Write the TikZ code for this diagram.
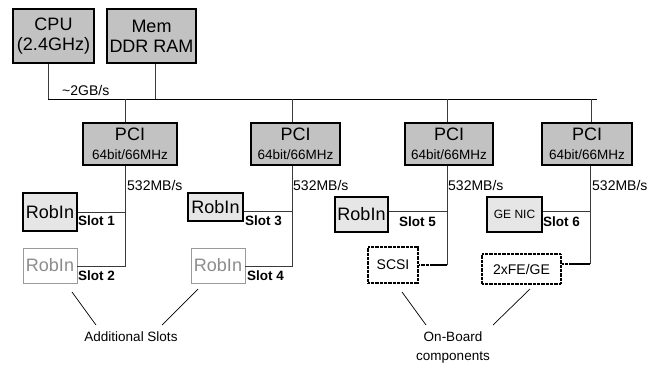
\documentclass[tikz,border=0pt]{standalone}
\usepackage{fontspec}
\setmainfont{Liberation Sans}
\begin{document}
\begin{tikzpicture}[x=1pt,y=-1pt,
  box/.style={draw=black, line width=1.1pt, inner sep=0pt, align=center},
  topbox/.style={box, fill=boxgray, font=\fontsize{18}{20}\selectfont},
  pcibox/.style={box, fill=boxgray, minimum height=42, font=\fontsize{18}{19}\selectfont},
  robbox/.style={box, fill=robgray, font=\fontsize{18}{20}\selectfont},
  ghostbox/.style={draw=ghost, line width=0.9pt, inner sep=0pt, fill=white, text=ghosttext, font=\fontsize{18}{20}\selectfont},
  dotbox/.style={draw=black, line width=1.6pt, dash pattern=on 0.8pt off 0.5pt, fill=white, inner sep=0pt, font=\fontsize{14}{16}\selectfont},
  wire/.style={draw=wirec, line width=0.9pt},
  bus/.style={draw=black, line width=1pt},
  speed/.style={inner sep=0pt, anchor=base west, font=\fontsize{14}{16}\selectfont},
  slotlbl/.style={inner sep=0pt, anchor=base west, font=\bfseries\fontsize{13.5}{15}\selectfont},
  note/.style={inner sep=0pt, align=center, font=\fontsize{13.5}{19}\selectfont},
  leader/.style={draw=black, line width=0.7pt}
]
\definecolor{boxgray}{HTML}{C2C2C2}
\definecolor{robgray}{HTML}{E6E6E6}
\definecolor{ghost}{HTML}{9A9A9A}
\definecolor{ghosttext}{HTML}{8C8C8C}
\definecolor{wirec}{HTML}{3A3A3A}
\useasboundingbox (0,0) rectangle (663,365);

% top boxes
\node[topbox, minimum width=81, minimum height=54] (cpu) at (53.5,36) {CPU\\(2.4GHz)};
\node[topbox, minimum width=89, minimum height=54] (mem) at (151.5,36) {Mem\\DDR RAM};

% bus
\coordinate (busL) at (48,99);
\coordinate (busR) at (597,99);
\coordinate (memj) at (155,99);
\coordinate (t1) at (125,99);
\coordinate (t2) at (292,99);
\coordinate (t3) at (447,99);
\coordinate (t4) at (591,99);
\draw[wire] (cpu.south -| busL) -- (busL);
\draw[wire] (mem.south -| memj) -- (memj);
\draw[bus] (busL) -- (busR);
\node[speed] (gbs) at (62,95) {\textasciitilde 2GB/s};

% PCI boxes
\node[pcibox, minimum width=94] (pci1) at (130,144) {PCI\\{\fontsize{13.5}{14}\selectfont 64bit/66MHz}};
\node[pcibox, minimum width=89] (pci2) at (295.5,144) {PCI\\{\fontsize{13.5}{14}\selectfont 64bit/66MHz}};
\node[pcibox, minimum width=88] (pci3) at (449,144) {PCI\\{\fontsize{13.5}{14}\selectfont 64bit/66MHz}};
\node[pcibox, minimum width=90] (pci4) at (587,144) {PCI\\{\fontsize{13.5}{14}\selectfont 64bit/66MHz}};
\draw[wire] (t1) -- (t1 |- pci1.north);
\draw[wire] (t2) -- (t2 |- pci2.north);
\draw[wire] (t3) -- (t3 |- pci3.north);
\draw[wire] (t4) -- (t4 |- pci4.north);

% slot devices
\node[robbox, minimum width=54, minimum height=38] (s1) at (50,212) {RobIn};
\node[ghostbox, minimum width=54, minimum height=35] (s2) at (50,265.5) {RobIn};
\node[robbox, minimum width=55, minimum height=28] (s3) at (215.5,207) {RobIn};
\node[ghostbox, minimum width=54, minimum height=35] (s4) at (218,265.5) {RobIn};
\node[robbox, minimum width=53, minimum height=35] (s5) at (361.5,214.5) {RobIn};
\node[robbox, minimum width=55, minimum height=35, font=\fontsize{12}{14}\selectfont] (s6) at (514.5,214.5) {GE NIC};
\node[dotbox, minimum width=50, minimum height=36] (scsi) at (393,265) {SCSI};
\node[dotbox, minimum width=79, minimum height=30] (fege) at (521.5,269) {2xFE/GE};

% junctions on the PCI branch lines
\coordinate (j1a) at (125,212);
\coordinate (j1b) at (125,266);
\coordinate (j2a) at (292,211);
\coordinate (j2b) at (292,266);
\coordinate (j3a) at (447,211);
\coordinate (j3b) at (447,265);
\coordinate (j4a) at (590,211);
\coordinate (j4b) at (590,264);

\draw[wire] (pci1.south -| j1a) -- (j1b) -- (j1b -| s2.east);
\draw[wire] (j1a) -- (j1a -| s1.east);
\draw[wire] (pci2.south -| j2a) -- (j2b) -- (j2b -| s4.east);
\draw[wire] (j2a) -- (j2a -| s3.east);
\draw[wire] (pci3.south -| j3a) -- (j3b);
\draw[wire] (j3a) -- (j3a -| s5.east);
\draw[wire] (pci4.south -| j4a) -- (j4b);
\draw[wire] (j4a) -- (j4a -| s6.east);

% on-board connectors: solid part then dotted part at the box
\coordinate (d5) at (433,265);
\coordinate (d6) at (572,264);
\draw[draw=black, line width=1.4pt] (j3b) -- (d5);
\draw[draw=black, line width=1.6pt, dash pattern=on 0.8pt off 0.5pt] (d5) -- (d5 -| scsi.east);
\draw[draw=black, line width=1.4pt] (j4b) -- (d6);
\draw[draw=black, line width=1.6pt, dash pattern=on 0.8pt off 0.5pt] (d6) -- (d6 -| fege.east);

% bandwidth labels
\node[speed] (bw1) at (127,190) {532MB/s};
\node[speed] (bw2) at (293,190) {532MB/s};
\node[speed] (bw3) at (448,190) {532MB/s};
\node[speed] (bw4) at (592,190) {532MB/s};

% slot labels
\node[slotlbl] (l1) at (78,225) {Slot 1};
\node[slotlbl] (l2) at (78,280) {Slot 2};
\node[slotlbl] (l3) at (245,225) {Slot 3};
\node[slotlbl] (l4) at (247,280) {Slot 4};
\node[slotlbl] (l5) at (399,226) {Slot 5};
\node[slotlbl] (l6) at (543,226) {Slot 6};

% annotations
\node[note] (addl) at (131,337) {Additional Slots};
\node[note] (onb) at (453,347) {On-Board\\components};
\coordinate (a1) at (72,292);
\coordinate (a1e) at (96,325);
\coordinate (a2) at (198,289);
\coordinate (a2e) at (162,325);
\coordinate (a3) at (402,292);
\coordinate (a3e) at (426,325);
\coordinate (a4) at (530,289);
\coordinate (a4e) at (493,325);
\draw[leader] (a1) -- (a1e);
\draw[leader] (a2) -- (a2e);
\draw[leader] (a3) -- (a3e);
\draw[leader] (a4) -- (a4e);
\end{tikzpicture}
\end{document}
